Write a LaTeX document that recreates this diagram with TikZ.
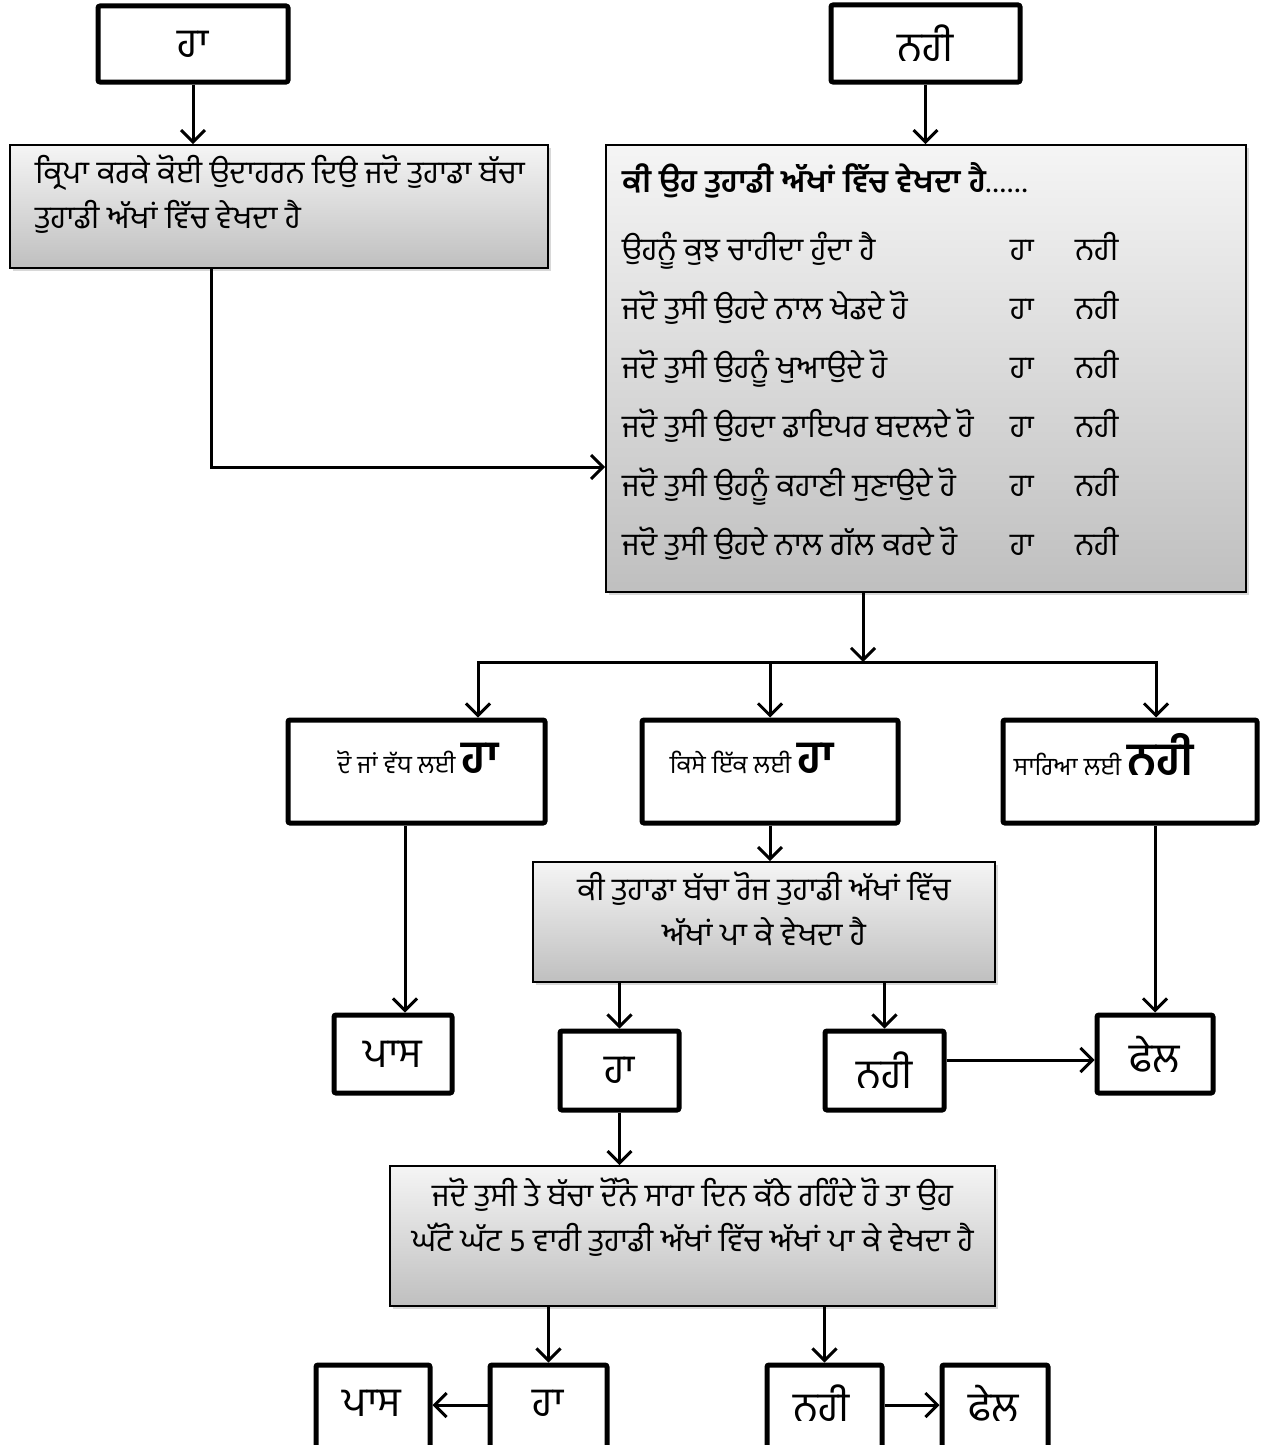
\documentclass[tikz,border=0pt]{standalone}
\usepackage{fontspec}
\usepackage{tikz}
\usetikzlibrary{arrows.meta,shadows}
\newfontfamily\pa[Script=Gurmukhi]{Hind Jalandhar}

\begin{document}
\begin{tikzpicture}
[x=1pt, y=-1pt,
whitebox/.style={draw, fill=white, line width=5pt, rounded corners=2pt, inner sep=0pt, font=\pa\fontsize{41}{46}\selectfont},
greybox/.style={draw, line width=1.6pt, top color=gray!8, bottom color=gray!50, inner sep=0pt, drop shadow={shadow xshift=3pt, shadow yshift=-3pt, opacity=0.3}},
boxtext/.style={inner sep=0pt, font=\pa\fontsize{31.5}{45}\selectfont},
tag/.style={inner sep=0pt, anchor=base, font=\pa\fontsize{25}{28}\selectfont},
label/.style={inner sep=0pt, font=\pa\fontsize{41}{46}\selectfont},
link/.style={line width=3pt},
flow/.style={line width=3pt, -{Straight Barb[length=12pt, width=24pt]}}]
\useasboundingbox (0,0) rectangle (1262,1445);
\clip (0,0) rectangle (1262,1445);
\fill[white] (0,0) rectangle (1262,1445);

\node[whitebox, minimum width=190pt, minimum height=76pt] (yesA) at (193,44) {ਹਾ};
\node[whitebox, minimum width=189pt, minimum height=77pt] (noA) at (925.5,43.5) {ਨਹੀ};

\node[greybox, minimum width=538pt, minimum height=123pt] (ask) at (279,206.5) {};
\node[boxtext, anchor=north west] (askt) at (35,152) {\begin{tabular}{@{}l@{}}
ਕ੍ਰਿਪਾ ਕਰਕੇ ਕੋਈ ਉਦਾਹਰਨ ਦਿਉ ਜਦੋ ਤੁਹਾਡਾ ਬੱਚਾ\\
ਤੁਹਾਡੀ ਅੱਖਾਂ ਵਿੱਚ ਵੇਖਦਾ ਹੈ
\end{tabular}};

\node[greybox, minimum width=640pt, minimum height=447pt] (look) at (926,368.5) {};
\node[boxtext, anchor=north west, font=\pa\fontsize{31.5}{59}\selectfont] (lookt) at (622,151) {\begin{tabular}{@{}p{388pt}@{}p{65pt}@{}l@{}}
\multicolumn{3}{@{}l@{}}{\bfseries ਕੀ ਉਹ ਤੁਹਾਡੀ ਅੱਖਾਂ ਵਿੱਚ ਵੇਖਦਾ ਹੈ{\mdseries.\kern2pt.\kern2pt.\kern2pt.\kern2pt.\kern2pt.}}\\[9pt]
ਉਹਨੂੰ ਕੁਝ ਚਾਹੀਦਾ ਹੁੰਦਾ ਹੈ & ਹਾ & ਨਹੀ\\
ਜਦੋ ਤੁਸੀ ਉਹਦੇ ਨਾਲ ਖੇਡਦੇ ਹੋ & ਹਾ & ਨਹੀ\\
ਜਦੋ ਤੁਸੀ ਉਹਨੂੰ ਖੁਆਉਦੇ ਹੋ & ਹਾ & ਨਹੀ\\
ਜਦੋ ਤੁਸੀ ਉਹਦਾ ਡਾਇਪਰ ਬਦਲਦੇ ਹੋ & ਹਾ & ਨਹੀ\\
ਜਦੋ ਤੁਸੀ ਉਹਨੂੰ ਕਹਾਣੀ ਸੁਣਾਉਦੇ ਹੋ & ਹਾ & ਨਹੀ\\
ਜਦੋ ਤੁਸੀ ਉਹਦੇ ਨਾਲ ਗੱਲ ਕਰਦੇ ਹੋ & ਹਾ & ਨਹੀ
\end{tabular}};

\node[whitebox, minimum width=257pt, minimum height=103pt] (twoplus) at (416.5,771.5) {};
\node[tag] (twoplust) at (418,773) {ਦੋ ਜਾਂ ਵੱਧ ਲਈ {\bfseries\fontsize{46}{50}\selectfont ਹਾ}};
\node[whitebox, minimum width=256pt, minimum height=103pt] (anyone) at (770,771.5) {};
\node[tag] (anyonet) at (752,773) {ਕਿਸੇ ਇੱਕ ਲਈ {\bfseries\fontsize{46}{50}\selectfont ਹਾ}};
\node[whitebox, minimum width=254pt, minimum height=103pt] (noneall) at (1130,771.5) {};
\node[tag] (noneallt) at (1104,775) {ਸਾਰਿਆ ਲਈ {\bfseries\fontsize{46}{50}\selectfont ਨਹੀ}};

\node[whitebox, minimum width=118pt, minimum height=78pt] (passB) at (393,1054) {ਪਾਸ};
\node[whitebox, minimum width=116pt, minimum height=78pt] (failB) at (1155,1054) {ਫੇਲ};

\node[greybox, minimum width=462pt, minimum height=120pt] (daily) at (764,922) {};
\node[boxtext, anchor=north] (dailyt) at (764,869) {\begin{tabular}{@{}c@{}}
ਕੀ ਤੁਹਾਡਾ ਬੱਚਾ ਰੋਜ ਤੁਹਾਡੀ ਅੱਖਾਂ ਵਿੱਚ\\
ਅੱਖਾਂ ਪਾ ਕੇ ਵੇਖਦਾ ਹੈ
\end{tabular}};

\node[whitebox, minimum width=119pt, minimum height=79pt] (yesB) at (619.5,1070.5) {ਹਾ};
\node[whitebox, minimum width=119pt, minimum height=79pt] (noB) at (884.5,1070.5) {ਨਹੀ};

\node[greybox, minimum width=605pt, minimum height=140pt] (fiveq) at (692.5,1236) {};
\node[boxtext, anchor=north] (fiveqt) at (692.5,1175) {\begin{tabular}{@{}c@{}}
ਜਦੋ ਤੁਸੀ ਤੇ ਬੱਚਾ ਦੋਨੋ ਸਾਰਾ ਦਿਨ ਕੱਠੇ ਰਹਿੰਦੇ ਹੋ ਤਾ ਉਹ\\
ਘੱਟੋ ਘੱਟ 5 ਵਾਰੀ ਤੁਹਾਡੀ ਅੱਖਾਂ ਵਿੱਚ ਅੱਖਾਂ ਪਾ ਕੇ ਵੇਖਦਾ ਹੈ
\end{tabular}};

% bottom row runs off the page
\node[whitebox, minimum width=114pt, minimum height=90pt] (passC) at (373,1410) {};
\node[whitebox, minimum width=117pt, minimum height=90pt] (yesC) at (548.5,1410) {};
\node[whitebox, minimum width=115pt, minimum height=90pt] (noC) at (824.5,1410) {};
\node[whitebox, minimum width=106pt, minimum height=90pt] (failC) at (995,1410) {};
\node[label] (passCt) at (372,1403) {ਪਾਸ};
\node[label] (yesCt) at (548,1403) {ਹਾ};
\node[label] (noCt) at (822,1403) {ਨਹੀ};
\node[label] (failCt) at (994,1403) {ਫੇਲ};

% bends and drops
\coordinate (askdrop) at (211,0);
\coordinate (fork) at (863,662);
\coordinate (forkL) at (478,662);
\coordinate (forkR) at (1156,662);
\coordinate (leftdrop) at (405,0);

\draw[flow] (yesA.south) -- (yesA.south |- ask.north);
\draw[flow] (noA.south) -- (noA.south |- look.north);
\draw[flow] (askdrop |- ask.south) |- (look.west |- 0,467);
\draw[flow] (look.south -| fork) -- (fork);
\draw[link, {Straight Barb[length=12pt, width=24pt]}-{Straight Barb[length=12pt, width=24pt]}] (forkL |- twoplus.north) -- (forkL) -- (forkR) -- (forkR |- noneall.north);
\draw[flow] (anyone.north |- fork) -- (anyone.north);
\draw[flow] (leftdrop |- twoplus.south) -- (leftdrop |- passB.north);
\draw[flow] (anyone.south) -- (anyone.south |- daily.north);
\draw[flow] (failB.north |- noneall.south) -- (failB.north);
\draw[flow] (yesB.north |- daily.south) -- (yesB.north);
\draw[flow] (noB.north |- daily.south) -- (noB.north);
\draw[flow] (noB.east |- 0,1060) -- (failB.west |- 0,1060);
\draw[flow] (yesB.south) -- (yesB.south |- fiveq.north);
\draw[flow] (yesC.north |- fiveq.south) -- (yesC.north);
\draw[flow] (noC.north |- fiveq.south) -- (noC.north);
\draw[flow] (yesC.west |- 0,1405) -- (passC.east |- 0,1405);
\draw[flow] (noC.east |- 0,1405) -- (failC.west |- 0,1405);
\end{tikzpicture}
\end{document}
